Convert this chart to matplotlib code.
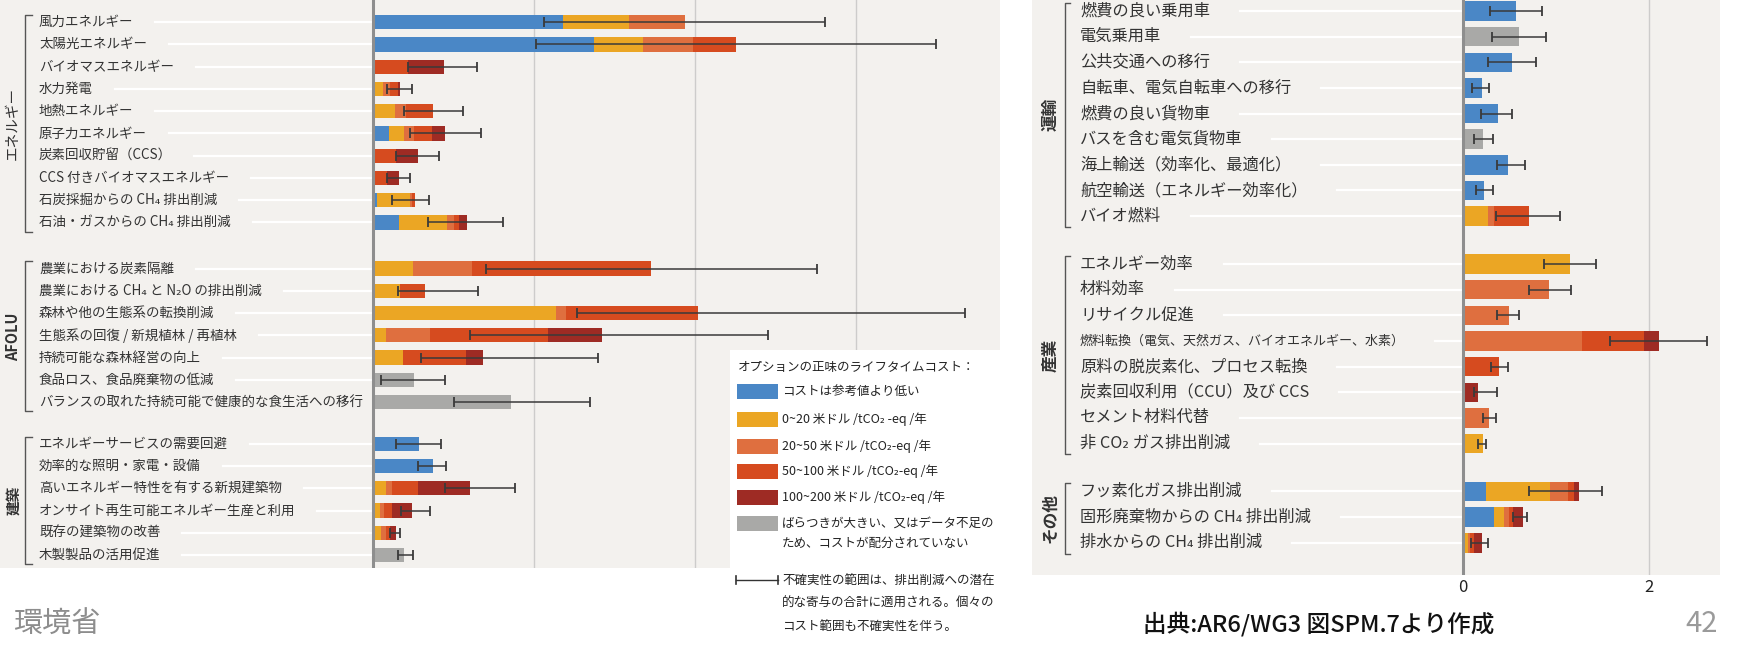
import matplotlib.pyplot as plt
import matplotlib.transforms as mtransforms
from matplotlib.patches import Rectangle
import numpy as np

plt.rcParams['font.family'] = ['Noto Sans CJK JP', 'DejaVu Sans']

# cost categories (legend) and colours
cost_labels = ['コストは参考値より低い',
               '0~20 米ドル /tCO₂ -eq /年',
               '20~50 米ドル /tCO₂-eq /年',
               '50~100 米ドル /tCO₂-eq /年',
               '100~200 米ドル /tCO₂-eq /年',
               'ばらつきが大きい、又はデータ不足の\nため、コストが配分されていない']
cost_colors = ['#4a87c6', '#eba624', '#df6f3f', '#d64b1f', '#9e2b24', '#a9a9a7']
err_note = '不確実性の範囲は、排出削減への潜在\n的な寄与の合計に適用される。個々の\nコスト範囲も不確実性を伴う。'

# ---- left panel: energy / AFOLU / buildings
left_groups = ['エネルギー', 'AFOLU', '建築']
left_group_sizes = [10, 7, 6]
left_labels = ['風力エネルギー', '太陽光エネルギー', 'バイオマスエネルギー', '水力発電',
               '地熱エネルギー', '原子力エネルギー', '炭素回収貯留（CCS）',
               'CCS 付きバイオマスエネルギー', '石炭採掘からの CH₄ 排出削減',
               '石油・ガスからの CH₄ 排出削減',
               '農業における炭素隔離', '農業における CH₄ と N₂O の排出削減',
               '森林や他の生態系の転換削減', '生態系の回復 / 新規植林 / 再植林',
               '持続可能な森林経営の向上', '食品ロス、食品廃棄物の低減',
               'バランスの取れた持続可能で健康的な食生活への移行',
               'エネルギーサービスの需要回避', '効率的な照明・家電・設備',
               '高いエネルギー特性を有する新規建築物',
               'オンサイト再生可能エネルギー生産と利用', '既存の建築物の改善',
               '木製製品の活用促進']
left_blue = [2.36, 2.74, 0, 0, 0, 0.20, 0, 0, 0.05, 0.32,
             0, 0, 0, 0, 0, 0, 0,
             0.57, 0.74, 0, 0, 0, 0]
left_yellow = [0.82, 0.61, 0, 0.13, 0.27, 0.19, 0, 0, 0.41, 0.60,
               0.50, 0.34, 2.27, 0.16, 0.37, 0, 0,
               0, 0, 0.16, 0.09, 0.10, 0]
left_orange = [0.69, 0.63, 0, 0.08, 0.14, 0.12, 0, 0, 0.03, 0.09,
               0.73, 0, 0.13, 0.55, 0, 0, 0,
               0, 0, 0.08, 0.05, 0.06, 0]
left_red = [0, 0.53, 0.44, 0.10, 0.34, 0.22, 0.28, 0.17, 0.03, 0.06,
            2.22, 0.30, 1.64, 1.47, 0.79, 0, 0,
            0, 0, 0.32, 0.10, 0.05, 0]
left_darkred = [0, 0, 0.44, 0.03, 0, 0.17, 0.28, 0.15, 0, 0.10,
                0, 0, 0, 0.66, 0.21, 0, 0,
                0, 0, 0.64, 0.24, 0.07, 0]
left_gray = [0, 0, 0, 0, 0, 0, 0, 0, 0, 0,
             0, 0, 0, 0, 0, 0.51, 1.71,
             0, 0, 0, 0, 0, 0.39]
left_err_lo = [2.12, 2.02, 0.44, 0.17, 0.38, 0.46, 0.28, 0.17, 0.23, 0.68,
               1.40, 0.31, 2.54, 1.21, 0.60, 0.10, 1.01,
               0.29, 0.56, 0.90, 0.35, 0.21, 0.31]
left_err_hi = [5.61, 7.00, 1.29, 0.49, 1.12, 1.34, 0.82, 0.46, 0.69, 1.62,
               5.52, 1.30, 7.35, 4.91, 2.80, 0.90, 2.70,
               0.84, 0.91, 1.76, 0.71, 0.34, 0.50]

# ---- right panel: transport / industry / other
right_groups = ['運輸', '産業', 'その他']
right_group_sizes = [9, 8, 3]
right_labels = ['燃費の良い乗用車', '電気乗用車', '公共交通への移行',
                '自転車、電気自転車への移行', '燃費の良い貨物車', 'バスを含む電気貨物車',
                '海上輸送（効率化、最適化）', '航空輸送（エネルギー効率化）', 'バイオ燃料',
                'エネルギー効率', '材料効率', 'リサイクル促進',
                '燃料転換（電気、天然ガス、バイオエネルギー、水素）',
                '原料の脱炭素化、プロセス転換', '炭素回収利用（CCU）及び CCS',
                'セメント材料代替', '非 CO₂ ガス排出削減',
                'フッ素化ガス排出削減', '固形廃棄物からの CH₄ 排出削減',
                '排水からの CH₄ 排出削減']
right_blue = [0.57, 0, 0.53, 0.20, 0.38, 0, 0.48, 0.23, 0,
              0, 0, 0, 0, 0, 0, 0, 0,
              0.25, 0.33, 0.02]
right_yellow = [0, 0, 0, 0, 0, 0, 0, 0, 0.27,
                1.15, 0, 0, 0, 0, 0, 0, 0.21,
                0.69, 0.11, 0.03]
right_orange = [0, 0, 0, 0, 0, 0, 0, 0, 0.06,
                0, 0.93, 0.49, 1.28, 0, 0, 0.28, 0,
                0.19, 0.06, 0.03]
right_red = [0, 0, 0, 0, 0, 0, 0, 0, 0.38,
             0, 0, 0, 0.67, 0.39, 0, 0, 0,
             0.06, 0.04, 0.04]
right_darkred = [0, 0, 0, 0, 0, 0, 0, 0, 0,
                 0, 0, 0, 0.16, 0, 0.16, 0, 0,
                 0.06, 0.10, 0.08]
right_gray = [0, 0.60, 0, 0, 0, 0.22, 0, 0, 0,
              0, 0, 0, 0, 0, 0, 0, 0,
              0, 0, 0]
right_err_lo = [0.29, 0.31, 0.27, 0.10, 0.19, 0.12, 0.37, 0.14, 0.35,
                0.87, 0.71, 0.37, 1.58, 0.30, 0.12, 0.22, 0.16,
                0.71, 0.54, 0.09]
right_err_hi = [0.85, 0.89, 0.79, 0.28, 0.53, 0.32, 0.67, 0.32, 1.04,
                1.43, 1.16, 0.60, 2.62, 0.48, 0.37, 0.35, 0.25,
                1.50, 0.69, 0.27]
right_ticks = [0, 2]

W, H = 1740, 645
fig = plt.figure(figsize=(W / 100, H / 100), dpi=100)
fig.patch.set_facecolor('white')

BG = '#f3f1ee'
TXT = '#333333'


def add_px_axes(x0, y0, x1, y1):
    # pixel box (top-left origin) -> figure axes
    ax = fig.add_axes([x0 / W, 1 - y1 / H, (x1 - x0) / W, (y1 - y0) / H])
    ax.set_facecolor(BG)
    for s in ax.spines.values():
        s.set_visible(False)
    ax.set_xticks([])
    ax.set_yticks([])
    return ax


def row_positions(sizes, gaps):
    ys, y = [], 0.0
    for gi, n in enumerate(sizes):
        if gi > 0:
            y += gaps[gi - 1] - 1
        for i in range(n):
            ys.append(y)
            y += 1
    return np.array(ys)


def draw_panel(ax, labels, segs, lo, hi, ys, sizes, groups, bar_h,
               label_x, bracket_x, group_x, fs, gfs, gweights, fs_override=None):
    fs_override = fs_override or {}
    trans = mtransforms.blended_transform_factory(ax.transAxes, ax.transData)
    left = np.zeros(len(labels))
    for vals, col in zip(segs, cost_colors):
        vals = np.array(vals, dtype=float)
        ax.barh(ys, vals, left=left, height=bar_h, color=col, linewidth=0, zorder=2)
        left += vals
    lo = np.array(lo)
    hi = np.array(hi)
    ax.errorbar((lo + hi) / 2, ys, xerr=(hi - lo) / 2, fmt='none', ecolor='#3a3a3a',
                elinewidth=1.1, capsize=3.5, capthick=1.3, zorder=4)
    texts = []
    for i, (lab, y) in enumerate(zip(labels, ys)):
        t = ax.text(label_x, y, lab, transform=trans, ha='left', va='center',
                    fontsize=fs_override.get(i, fs), color=TXT, zorder=3)
        texts.append((t, y))
    # group brackets
    start = 0
    for g, n, gw in zip(groups, sizes, gweights):
        y0 = ys[start] - 0.32
        y1 = ys[start + n - 1] + 0.42
        ax.plot([bracket_x + 0.007, bracket_x, bracket_x, bracket_x + 0.007],
                [y0, y0, y1, y1], transform=trans, color='#555555', lw=1.0,
                clip_on=False, zorder=3)
        ax.text(group_x, (y0 + y1) / 2, g, transform=trans, rotation=90,
                ha='center', va='center', fontsize=gfs, color=TXT, fontweight=gw)
        start += n
    return texts


# ---- left panel
L_ZERO, L_UNIT = 373, 80.5
axL = add_px_axes(0, 0, 1000, 568)
axL.set_xlim(-L_ZERO / L_UNIT, (1000 - L_ZERO) / L_UNIT)
ysL = row_positions(left_group_sizes, [2.07, 1.88])
axL.set_ylim(ysL[0] + (568 - 22.2) / 22.25, ysL[0] - 22.2 / 22.25)
for gx in [2, 4, 6]:
    axL.axvline(gx, color='#cdcccb', lw=1.0, zorder=1)
axL.axvline(0, color='#8e8e8e', lw=2.2, zorder=3)
textsL = draw_panel(axL, left_labels,
                    [left_blue, left_yellow, left_orange, left_red, left_darkred, left_gray],
                    left_err_lo, left_err_hi, ysL, left_group_sizes, left_groups, 0.64,
                    39 / 1000, 25 / 1000, 13 / 1000, 9.7, 10.5,
                    ['normal', 'bold', 'bold'])

# ---- right panel
R_X0, R_X1, R_ZERO, R_UNIT = 1032, 1720, 1463, 93
axR = add_px_axes(R_X0, 0, R_X1, 575)
axR.set_xlim((R_X0 - R_ZERO) / R_UNIT, (R_X1 - R_ZERO) / R_UNIT)
ysR = row_positions(right_group_sizes, [1.87, 1.87])
axR.set_ylim((575 - 11) / 25.64, -11 / 25.64)
for gx in right_ticks[1:]:
    axR.axvline(gx, color='#cdcccb', lw=1.0, zorder=1)
axR.axvline(0, color='#8e8e8e', lw=2.2, zorder=3)
pw = R_X1 - R_X0
textsR = draw_panel(axR, right_labels,
                    [right_blue, right_yellow, right_orange, right_red, right_darkred, right_gray],
                    right_err_lo, right_err_hi, ysR, right_group_sizes, right_groups, 0.76,
                    (1080 - R_X0) / pw, (1065 - R_X0) / pw, (1050 - R_X0) / pw,
                    11.7, 12, ['bold', 'bold', 'bold'], fs_override={12: 9.4})
for t in right_ticks:
    fig.text((R_ZERO + t * R_UNIT) / W, 1 - 587 / H, str(t), ha='center', va='center',
             fontsize=12, color='#222222')

# white guide lines from the end of each label to the axis
fig.canvas.draw()
rend = fig.canvas.get_renderer()
for ax, texts, gap in [(axL, textsL, 22), (axR, textsR, 30)]:
    inv = ax.transData.inverted()
    for t, y in texts:
        bb = t.get_window_extent(rend)
        xs = inv.transform((bb.x1 + gap, 0))[0]
        if xs < 0:
            ax.plot([xs, 0], [y, y], color='white', lw=1.6, zorder=1.5)

# ---- legend box
lax = fig.add_axes([730 / W, 0, 272 / W, (H - 350) / H])
lax.set_facecolor('white')
for s in lax.spines.values():
    s.set_visible(False)
lax.set_xticks([])
lax.set_yticks([])
lax.set_xlim(0, 272)
lax.set_ylim(H - 350, 0)
lax.text(8, 17, 'オプションの正味のライフタイムコスト：', fontsize=9, color='#222222',
         va='center', ha='left')
sw_y = [41, 69, 96, 121, 147, 173]
for lab, col, yy in zip(cost_labels, cost_colors, sw_y):
    lax.add_patch(Rectangle((7, yy - 7.5), 41, 15, color=col, lw=0))
    lines = lab.split('\n')
    for k, ln in enumerate(lines):
        lax.text(52, yy + k * 20, ln, fontsize=9, color='#222222', va='center', ha='left')
lax.plot([6, 48], [230, 230], color='#333333', lw=1)
lax.plot([6, 6], [226, 234], color='#333333', lw=1.2)
lax.plot([48, 48], [226, 234], color='#333333', lw=1.2)
for k, ln in enumerate(err_note.split('\n')):
    lax.text(52, 230 + k * 23, ln, fontsize=9, color='#222222', va='center', ha='left')

# ---- footer
fig.text(13 / W, 1 - 625 / H, '環境省', fontsize=21, color='#8d8d8d', va='center', ha='left')
fig.text(1143 / W, 1 - 624 / H, '出典:AR6/WG3 図SPM.7より作成', fontsize=17,
         color='#111111', va='center', ha='left', fontweight='medium')
fig.text(1718 / W, 1 - 624 / H, '42', fontsize=21, color='#9a9a9a', va='center', ha='right')

fig.savefig('out.png', dpi=100)
